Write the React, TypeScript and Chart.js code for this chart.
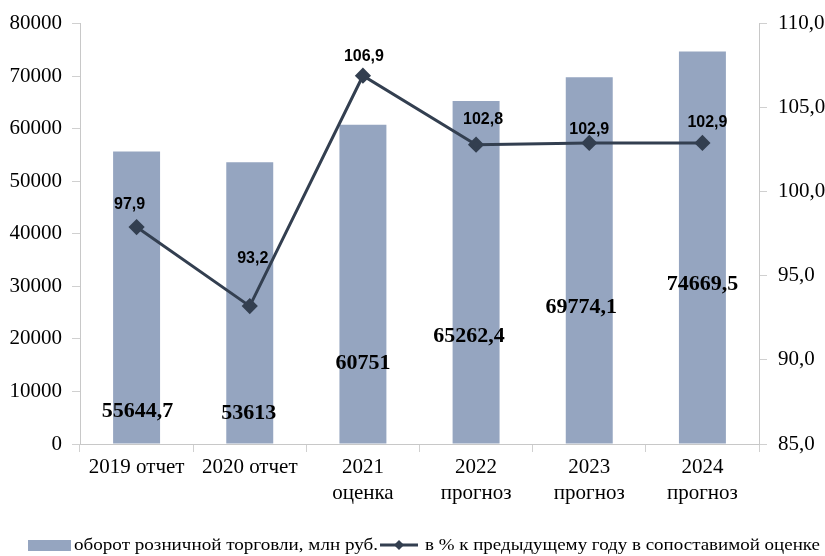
import React, { useEffect, useRef } from "react";
import { Chart, registerables } from "chart.js";

Chart.register(...registerables);

// ---- data ----
const categories: string[][] = [
  ["2019 отчет"],
  ["2020 отчет"],
  ["2021", "оценка"],
  ["2022", "прогноз"],
  ["2023", "прогноз"],
  ["2024", "прогноз"],
];
const turnover = [55644.7, 53613, 60751, 65262.4, 69774.1, 74669.5];
const turnoverLabels = ["55644,7", "53613", "60751", "65262,4", "69774,1", "74669,5"];
const growth = [97.9, 93.2, 106.9, 102.8, 102.9, 102.9];
const growthLabels = ["97,9", "93,2", "106,9", "102,8", "102,9", "102,9"];
const leftTicks = { min: 0, max: 80000, step: 10000 };
const rightTicks = { min: 85, max: 110, step: 5 };
const seriesNames = [
  "оборот розничной торговли, млн руб.",
  "в % к предыдущему году в сопоставимой оценке",
];

// ---- label placement (pixel offsets, layout only) ----
const barLabelDx = [1, -1, 0, -7, -8, 0];
const barLabelRise = [33, 31, 81, 108, 137, 160];
const lineLabelDx = [-7, 3, 1, 7, 0, 5];
const lineLabelRise = [22, 48, 19, 25, 13, 20];

const BAR_COLOR = "#95A5C0";
const LINE_COLOR = "#333F50";
const SERIF = "'Liberation Serif', 'Times New Roman', serif";
const SANS = "'Liberation Sans', Arial, sans-serif";

const labelsPlugin = {
  id: "customLabels",
  afterDatasetsDraw(chart: any) {
    const ctx = chart.ctx;
    const barMeta = chart.getDatasetMeta(1);
    const lineMeta = chart.getDatasetMeta(0);
    const yScale = chart.scales.y;
    const base = yScale.getPixelForValue(0);
    ctx.save();
    ctx.fillStyle = "#000";
    ctx.textAlign = "center";
    ctx.textBaseline = "middle";
    ctx.font = `bold 22px ${SERIF}`;
    barMeta.data.forEach((el: any, i: number) => {
      ctx.fillText(turnoverLabels[i], el.x + barLabelDx[i], base - barLabelRise[i]);
    });
    ctx.font = `bold 16px ${SANS}`;
    lineMeta.data.forEach((el: any, i: number) => {
      ctx.fillText(growthLabels[i], el.x + lineLabelDx[i], el.y - lineLabelRise[i]);
    });
    ctx.restore();
  },
  afterDraw(chart: any) {
    const ctx = chart.ctx;
    ctx.save();
    // legend item 1
    ctx.fillStyle = BAR_COLOR;
    ctx.fillRect(28, 540, 43, 11);
    ctx.fillStyle = "#000";
    ctx.textBaseline = "middle";
    ctx.textAlign = "left";
    ctx.font = `17px ${SERIF}`;
    const drawFit = (text: string, x: number, y: number, target: number) => {
      const w = ctx.measureText(text).width;
      const s = target / w;
      ctx.save();
      ctx.translate(x, y);
      ctx.scale(s, 1);
      ctx.fillText(text, 0, 0);
      ctx.restore();
    };
    drawFit(seriesNames[0], 74, 546, 304);
    // legend item 2
    ctx.strokeStyle = LINE_COLOR;
    ctx.lineWidth = 3;
    ctx.beginPath();
    ctx.moveTo(380, 545);
    ctx.lineTo(418, 545);
    ctx.stroke();
    ctx.fillStyle = LINE_COLOR;
    ctx.beginPath();
    ctx.moveTo(399, 540);
    ctx.lineTo(404, 545);
    ctx.lineTo(399, 550);
    ctx.lineTo(394, 545);
    ctx.closePath();
    ctx.fill();
    ctx.fillStyle = "#000";
    drawFit(seriesNames[1], 425, 546, 395);
    ctx.restore();
  },
};

export default function App() {
  const ref = useRef<HTMLCanvasElement | null>(null);
  useEffect(() => {
    document.body.style.margin = "0";
    const canvas = ref.current!;
    const chart = new Chart(canvas, {
      type: "bar",
      data: {
        labels: categories as any,
        datasets: [
          {
            type: "line",
            label: seriesNames[1],
            data: growth,
            yAxisID: "y1",
            borderColor: LINE_COLOR,
            backgroundColor: LINE_COLOR,
            borderWidth: 3,
            pointStyle: "rectRot",
            pointRadius: 6,
            pointHoverRadius: 6,
            tension: 0,
            order: 0,
          } as any,
          {
            type: "bar",
            label: seriesNames[0],
            data: turnover,
            yAxisID: "y",
            backgroundColor: BAR_COLOR,
            categoryPercentage: 1,
            barPercentage: 0.415,
            order: 1,
          },
        ],
      },
      options: {
        responsive: false,
        animation: false,
        layout: { padding: { top: 23, left: 0, right: 0, bottom: 0 } },
        plugins: { legend: { display: false }, tooltip: { enabled: false } },
        scales: {
          x: {
            offset: true,
            grid: {
              display: true,
              drawOnChartArea: false,
              offset: true,
              tickLength: 8,
              color: "#D0D0D0",
            },
            border: { color: "#C8C8C8" },
            ticks: {
              color: "#000",
              font: { family: SERIF, size: 21, lineHeight: 1.25 },
              padding: 2,
              maxRotation: 0,
              autoSkip: false,
            },
            afterFit(scale: any) {
              scale.height = 112;
            },
          },
          y: {
            position: "left",
            min: leftTicks.min,
            max: leftTicks.max,
            grid: { drawOnChartArea: false, tickLength: 8, color: "#D0D0D0" },
            border: { color: "#C8C8C8" },
            ticks: {
              stepSize: leftTicks.step,
              color: "#000",
              font: { family: SERIF, size: 21 },
              padding: 10,
              callback: (v: any) => String(v),
            },
            afterFit(scale: any) {
              scale.width = 80;
            },
          },
          y1: {
            position: "right",
            min: rightTicks.min,
            max: rightTicks.max,
            grid: { drawOnChartArea: false, tickLength: 8, color: "#D0D0D0" },
            border: { color: "#C8C8C8" },
            ticks: {
              stepSize: rightTicks.step,
              color: "#000",
              font: { family: SERIF, size: 21 },
              padding: 11,
              callback: (v: any) => Number(v).toFixed(1).replace(".", ","),
            },
            afterFit(scale: any) {
              scale.width = 66;
            },
          },
        },
      },
      plugins: [labelsPlugin],
    });
    return () => chart.destroy();
  }, []);
  return (
    <div style={{ position: "absolute", left: 0, top: 0, width: 825, height: 556, background: "#fff" }}>
      <canvas ref={ref} width={825} height={556} />
    </div>
  );
}
